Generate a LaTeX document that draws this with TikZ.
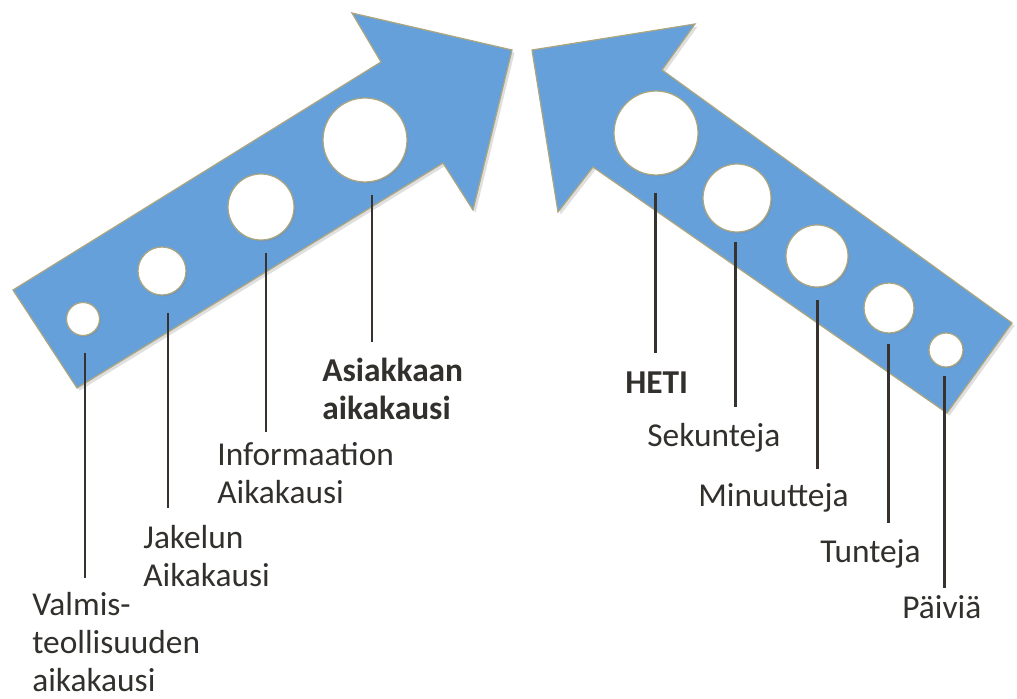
\documentclass[tikz,border=0pt]{standalone}
\usepackage{fontspec}
\setmainfont{Carlito}
\usetikzlibrary{shadows}
\definecolor{arrowblue}{RGB}{102,160,218}
\definecolor{rimtan}{RGB}{172,166,128}
\definecolor{leadgray}{RGB}{55,50,45}
\definecolor{textgray}{RGB}{50,48,45}

\begin{document}
\begin{tikzpicture}[x=0.02cm, y=-0.02cm,
    band/.style={fill=arrowblue, draw=rimtan, line width=0.7pt, drop shadow={shadow xshift=1.5pt, shadow yshift=-1.5pt, opacity=0.25}},
    hole/.style={circle, fill=white, draw=rimtan, line width=0.7pt, inner sep=0pt, minimum size=#1, drop shadow={shadow xshift=0.8pt, shadow yshift=-0.8pt, opacity=0.3}},
    lead/.style={draw=leadgray, line width=1.7pt},
    era/.style={anchor=base west, align=left, inner sep=0pt, text=textgray, font=\fontsize{19}{21.6}\selectfont},
    key/.style={era, font=\fontsize{19}{21.6}\selectfont\bfseries}
]
    \useasboundingbox (0,0) rectangle (1017,699);

    % arrows
    \draw[band] (13,290) -- (381,62) -- (352,13) -- (512,50) -- (473,210) -- (443,163) -- (77,388) -- cycle;
    \draw[band] (532,50) -- (695,24) -- (662,70) -- (1012,323) -- (947,413) -- (593,167) -- (558,212) -- cycle;

    % holes, left
    \node[hole=0.66cm] (l1) at (83,319) {};
    \node[hole=0.96cm] (l2) at (162,271) {};
    \node[hole=1.32cm] (l3) at (261,207) {};
    \node[hole=1.68cm] (l4) at (365,140) {};
    % holes, right
    \node[hole=1.68cm] (r1) at (656,133) {};
    \node[hole=1.36cm] (r2) at (737,198) {};
    \node[hole=1.24cm] (r3) at (817,256) {};
    \node[hole=1.00cm] (r4) at (889,308) {};
    \node[hole=0.68cm] (r5) at (946,350) {};

    % labels (base = last line)
    \node[era] (v1) at (32,691) {Valmis-\\teollisuuden\\aikakausi};
    \node[era] (v2) at (143,586) {Jakelun\\Aikakausi};
    \node[era] (v3) at (217,503) {Informaation\\Aikakausi};
    \node[key] (v4) at (322,419) {Asiakkaan\\aikakausi};
    \node[key] (h1) at (625,393) {HETI};
    \node[era] (h2) at (647,446) {Sekunteja};
    \node[era] (h3) at (698,506) {Minuutteja};
    \node[era] (h4) at (820,562) {Tunteja};
    \node[era] (h5) at (902,618) {Päiviä};

    % leads
    \coordinate (a1) at (85,353);  \coordinate (b1) at (85,578);
    \coordinate (a2) at (168,313); \coordinate (b2) at (168,508);
    \coordinate (a3) at (266,253); \coordinate (b3) at (266,432);
    \coordinate (a4) at (372,195); \coordinate (b4) at (372,342);
    \coordinate (a5) at (655,193); \coordinate (b5) at (655,353);
    \coordinate (a6) at (735,242); \coordinate (b6) at (735,407);
    \coordinate (a7) at (817,300); \coordinate (b7) at (817,469);
    \coordinate (a8) at (888,344); \coordinate (b8) at (888,523);
    \coordinate (a9) at (944,376); \coordinate (b9) at (944,588);
    \draw[lead] (a1) -- (b1);
    \draw[lead] (a2) -- (b2);
    \draw[lead] (a3) -- (b3);
    \draw[lead] (a4) -- (b4);
    \draw[lead] (a5) -- (b5);
    \draw[lead] (a6) -- (b6);
    \draw[lead] (a7) -- (b7);
    \draw[lead] (a8) -- (b8);
    \draw[lead] (a9) -- (b9);
\end{tikzpicture}
\end{document}
